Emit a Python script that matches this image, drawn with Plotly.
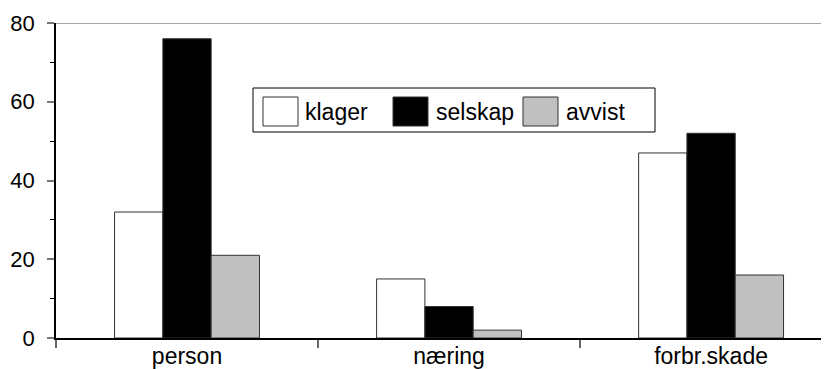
import plotly.graph_objects as go

categories = ["person", "næring", "forbr.skade"]
series_names = ["klager", "selskap", "avvist"]
klager = [32, 15, 47]
selskap = [76, 8, 52]
avvist = [21, 2, 16]
y_ticks = [0, 20, 40, 60, 80]

values = [klager, selskap, avvist]
fills = ["#ffffff", "#000000", "#c0c0c0"]

# the page body has an 8px margin, so figure coords = screen coords - 8
OFF = 8
W, H = 829, 369
L = 56 - OFF
T = 23 - OFF
B = H - (338 - OFF)
R = OFF
PW, PH = W - L - R, H - T - B
FONT = "Liberation Sans, Arial, Helvetica, sans-serif"

fig = go.Figure()
for name, vals, col in zip(series_names, values, fills):
    fig.add_trace(go.Bar(
        x=categories, y=vals, name=name, marker_color=col,
        marker_line_color="#333333", marker_line_width=1,
        showlegend=False,
    ))

xr = [-0.5, 2.45]
yr = [0, 80]

fig.update_layout(
    width=W, height=H,
    margin=dict(l=L, r=R, t=T, b=B, pad=0),
    paper_bgcolor="white", plot_bgcolor="white",
    barmode="group", bargap=0.447, bargroupgap=0,
    font=dict(family=FONT, size=22, color="black"),
    xaxis=dict(type="category", range=xr, tickson="boundaries",
               ticks="outside", ticklen=8, tickcolor="#666666", tickwidth=2,
               showline=True, linecolor="black", linewidth=1.5,
               showgrid=False, zeroline=False, automargin=False,
               tickfont=dict(size=23), ticklabelstandoff=-3),
    xaxis2=dict(overlaying="x", anchor="y", range=xr, type="linear",
                tickvals=[-0.5, 0.5, 1.5], ticks="inside", ticklen=8,
                tickcolor="#666666", tickwidth=2,
                showticklabels=False, showgrid=False, zeroline=False,
                showline=False),
    yaxis=dict(range=yr, tickvals=y_ticks, ticks="outside", ticklen=7,
               tickcolor="#777777", tickwidth=1.5,
               minor=dict(dtick=10, ticks="outside", ticklen=4,
                          tickcolor="black", tickwidth=1),
               showline=True, linecolor="black", linewidth=1.5,
               showgrid=False, zeroline=False, ticklabelstandoff=8,
               automargin=False, tickfont=dict(size=22)),
    yaxis2=dict(overlaying="y", anchor="x", side="left", range=yr,
                tickvals=y_ticks, ticks="inside", ticklen=7,
                tickcolor="#777777", tickwidth=1.5,
                minor=dict(dtick=10, ticks="inside", ticklen=4,
                           tickcolor="black", tickwidth=1),
                showticklabels=False, showgrid=False, zeroline=False,
                showline=False),
)

# top reference line at the max tick
fig.add_shape(type="line", xref="paper", yref="y", x0=0, x1=1,
              y0=y_ticks[-1], y1=y_ticks[-1],
              line=dict(color="#888888", width=1.5))

# custom legend (screen-pixel layout converted to paper coords)
def px(xp):
    return (xp - OFF - L) / PW

def py(yp):
    return (H - B - (yp - OFF)) / PH

box = (253, 88, 655, 132)
fig.add_shape(type="rect", xref="paper", yref="paper",
              x0=px(box[0]), x1=px(box[2]), y0=py(box[3]), y1=py(box[1]),
              line=dict(color="black", width=1), fillcolor="white", layer="above")
sw_x = [263, 393, 523]
txt_x = [305, 436, 566]
sw_w, sw_top, sw_bot = 35, 97, 126
for name, col, sx, tx in zip(series_names, fills, sw_x, txt_x):
    fig.add_shape(type="rect", xref="paper", yref="paper",
                  x0=px(sx), x1=px(sx + sw_w), y0=py(sw_bot), y1=py(sw_top),
                  line=dict(color="#333333", width=1), fillcolor=col, layer="above")
    fig.add_annotation(xref="paper", yref="paper", x=px(tx) - 0.003,
                       y=py((sw_top + sw_bot) / 2),
                       text=name, showarrow=False, xanchor="left", yanchor="middle",
                       font=dict(size=23, family=FONT, color="black"))

fig.write_html("out.html")
